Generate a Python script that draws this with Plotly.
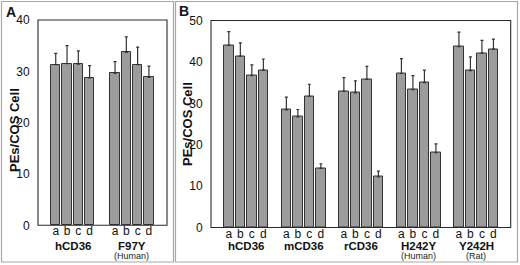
import plotly.graph_objects as go

# ---- data ----
sub_labels = ["a", "b", "c", "d"]

a_groups = ["hCD36", "F97Y"]
a_sub = ["", "(Human)"]
a_values = [[31.3, 31.5, 31.4, 28.7], [29.6, 33.7, 31.3, 28.8]]
a_err_top = [[33.5, 35.0, 34.0, 31.1], [31.9, 36.7, 34.7, 31.0]]

b_groups = ["hCD36", "mCD36", "rCD36", "H242Y", "Y242H"]
b_sub = ["", "", "", "(Human)", "(Rat)"]
b_values = [[44.0, 41.4, 36.7, 38.0],
            [28.4, 26.7, 31.7, 14.3],
            [32.9, 32.5, 35.8, 12.2],
            [37.2, 33.3, 35.0, 18.1],
            [43.7, 37.9, 42.1, 43.1]]
b_err_top = [[47.3, 44.6, 39.3, 40.7],
             [31.5, 28.5, 34.6, 15.4],
             [36.2, 35.4, 38.9, 13.6],
             [40.8, 36.7, 38.0, 20.2],
             [47.2, 41.2, 45.2, 45.5]]

y_title = "PEs/COS Cell"

# ---- build ----
FONT = "Liberation Sans, Arial, sans-serif"
BAR_FILL = "#9c9c9c"
BAR_LINE = "#333333"
W, H = 520, 265

A_X = [38 / W, 167 / W]
A_Y = [1 - 225.3 / H, 1 - 20 / H]
B_X = [211 / W, 510.7 / W]
B_Y = [1 - 227.5 / H, 1 - 20.5 / H]

def positions(ngroups, gap):
    xs = []
    for g in range(ngroups):
        for i in range(4):
            xs.append(g * gap + i)
    return xs

fig = go.Figure()

def add_panel(values, errtop, gap, xa, ya):
    xs = positions(len(values), gap)
    ys = [v for grp in values for v in grp]
    es = [e - v for ge, gv in zip(errtop, values) for e, v in zip(ge, gv)]
    fig.add_trace(go.Bar(
        x=xs, y=ys, xaxis=xa, yaxis=ya, width=0.82,
        marker=dict(color=BAR_FILL, line=dict(color=BAR_LINE, width=1)),
        error_y=dict(type="data", array=es, arrayminus=[0] * len(es),
                     symmetric=False, color="#333333", thickness=1.2, width=1.5),
        showlegend=False, hoverinfo="skip"))
    return xs

xs_a = add_panel(a_values, a_err_top, 5.25, "x", "y")
xs_b = add_panel(b_values, b_err_top, 5.0, "x2", "y2")

axis_common = dict(showline=False, showgrid=False, zeroline=False, automargin=False,
                   tickfont=dict(family=FONT, size=12, color="#111111"))
ytick = dict(ticks="outside", ticklen=5, tickcolor="rgba(0,0,0,0)")
xtick = dict(ticks="", ticklabelstandoff=-3)

fig.update_layout(
    template="none",
    width=W, height=H,
    margin=dict(l=0, r=0, t=0, b=0, pad=0),
    paper_bgcolor="white", plot_bgcolor="white",
    bargap=0,
    xaxis=dict(domain=A_X, range=[-1.57, 9.85],
               tickvals=xs_a, ticktext=sub_labels * len(a_groups),
               anchor="y", **xtick, **axis_common),
    yaxis=dict(domain=A_Y, range=[0, 40],
               tickvals=[0, 10, 20, 30, 40], anchor="x", **ytick, **axis_common),
    xaxis2=dict(domain=B_X, range=[-1.55, 24.5],
                tickvals=xs_b, ticktext=sub_labels * len(b_groups),
                anchor="y2", **xtick, **axis_common),
    yaxis2=dict(domain=B_Y, range=[0, 50],
                tickvals=[0, 10, 20, 30, 40, 50], anchor="x2", **ytick, **axis_common),
)

ann = []
def group_labels(groups, subs, gap, xref):
    for g, (name, sub) in enumerate(zip(groups, subs)):
        cx = g * gap + 1.5
        ann.append(dict(x=cx, xref=xref, y=1 - 246 / H, yref="paper",
                        xanchor="center", yanchor="middle",
                        text="<b>" + name + "</b>", showarrow=False,
                        font=dict(family=FONT, size=11.5, color="#111111")))
        if sub:
            ann.append(dict(x=cx, xref=xref, y=1 - 255.5 / H, yref="paper",
                            xanchor="center", yanchor="middle",
                            text=sub, showarrow=False,
                            font=dict(family=FONT, size=9, color="#222222")))

group_labels(a_groups, a_sub, 5.25, "x")
group_labels(b_groups, b_sub, 5.0, "x2")

def paper_text(x, y, text, size, angle=0):
    ann.append(dict(x=x / W, y=1 - y / H, xref="paper", yref="paper",
                    xanchor="center", yanchor="middle", textangle=angle,
                    text=text, showarrow=False,
                    font=dict(family=FONT, size=size, color="#111111")))

paper_text(14, 130, "<b>" + y_title + "</b>", 13, -90)
paper_text(187, 124, "<b>" + y_title + "</b>", 13, -90)
paper_text(11, 12, "<b>A</b>", 14)
paper_text(184, 11, "<b>B</b>", 14)
fig.update_layout(annotations=ann)

def frame(xd, yd, color, width):
    return dict(type="rect", xref="paper", yref="paper",
                x0=xd[0], x1=xd[1], y0=yd[0], y1=yd[1],
                line=dict(color=color, width=width), layer="above")

fig.update_layout(shapes=[
    frame([1.5 / W, 173.5 / W], [1 - 262 / H, 1 - 1.5 / H], "#a8a8a8", 1.2),
    frame([175.5 / W, 517.5 / W], [1 - 262 / H, 1 - 1.5 / H], "#a8a8a8", 1.2),
    frame(A_X, A_Y, "#2a2a2a", 1.1),
    frame(B_X, B_Y, "#2a2a2a", 1.1),
])

fig.write_html("out.html", config={"displayModeBar": False},
               post_script="document.body.style.margin='0';document.body.style.padding='0';")
